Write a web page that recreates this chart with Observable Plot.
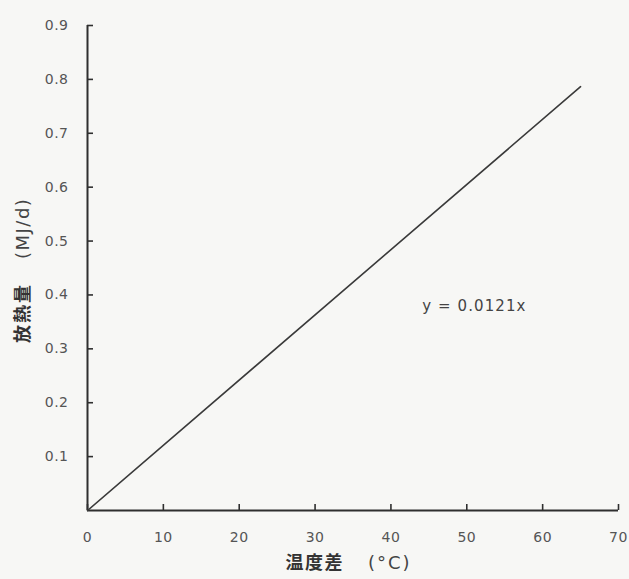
<!DOCTYPE html>
<html>
<head>
<meta charset="utf-8">
<script src="https://cdn.jsdelivr.net/npm/d3@7"></script>
<script src="https://cdn.jsdelivr.net/npm/@observablehq/plot@0.6"></script>
<style>
  html, body { margin: 0; padding: 0; background: #f7f7f5; }
  #chart svg { display: block; }
</style>
</head>
<body>
<div id="chart"></div>
<script>
// Heat release vs. temperature difference, regression through the origin
const slope = 0.0121;
const xRange = [0, 65];
const xTicks = [0, 10, 20, 30, 40, 50, 60, 70];
const yTicks = [0.1, 0.2, 0.3, 0.4, 0.5, 0.6, 0.7, 0.8, 0.9];
const equationLabel = ["y = 0.0121x"];
const equationPos = [{x: 51, y: 0.38}];
const xTitle = ["温度差", "(°C)"];
const yTitle = ["放熱量", "(MJ/d)"];

// extra tracking for the titles and the equation
const spacing = new Map([
  [equationLabel[0], "1.1px"],
  [xTitle[0], "1.5px"],
  [xTitle[1], "2px"],
  [yTitle[0], "2px"],
  [yTitle[1], "1.5px"]
]);

const fitLine = xRange.map(x => ({x, y: slope * x}));
const ink = "#2f2f2f";
const tickInk = "#555";
const latin = "'DejaVu Sans', sans-serif";
const cjk = "'Noto Sans CJK JP', sans-serif";

const chart = Plot.plot({
  width: 629,
  height: 579,
  marginLeft: 87,
  marginRight: 11,
  marginTop: 25,
  marginBottom: 69,
  style: {background: "#f7f7f5", fontFamily: latin, fontSize: "14px", letterSpacing: "0.5px"},
  x: {domain: [0, 70]},
  y: {domain: [0, 0.9]},
  marks: [
    Plot.axisX({
      ticks: xTicks, tickSize: -6, tickPadding: 28, stroke: ink, strokeWidth: 1.6,
      color: tickInk, fontSize: 14, label: null
    }),
    Plot.axisY({
      ticks: yTicks, tickSize: -6, tickPadding: 25, stroke: ink, strokeWidth: 1.6,
      color: tickInk, fontSize: 14, label: null, tickFormat: d3.format(".1f")
    }),
    Plot.ruleX([0], {stroke: ink, strokeWidth: 2}),
    Plot.ruleY([0], {stroke: ink, strokeWidth: 2}),
    Plot.line(fitLine, {x: "x", y: "y", stroke: "#3a3a3a", strokeWidth: 1.6}),
    Plot.text(equationPos, {
      x: "x", y: "y", text: () => equationLabel[0],
      fontSize: 15, fill: "#444", textAnchor: "middle"
    }),
    // x axis title: bold CJK word followed by the unit
    Plot.text([xTitle[0]], {
      frameAnchor: "bottom", dx: -9, dy: 58, textAnchor: "end", text: d => d,
      fontSize: 18, fontWeight: "bold", fill: "#333", fontFamily: cjk
    }),
    Plot.text([xTitle[1]], {
      frameAnchor: "bottom", dx: 15, dy: 58, textAnchor: "start", text: d => d,
      fontSize: 18, fill: "#444", fontFamily: latin
    }),
    // y axis title, rotated, reading bottom to top
    Plot.text([yTitle[0]], {
      frameAnchor: "left", dx: -64, dy: 75, rotate: -90, textAnchor: "start", text: d => d,
      fontSize: 18, fontWeight: "bold", fill: "#333", fontFamily: cjk
    }),
    Plot.text([yTitle[1]], {
      frameAnchor: "left", dx: -64, dy: -9, rotate: -90, textAnchor: "start", text: d => d,
      fontSize: 18, fill: "#444", fontFamily: latin
    })
  ]
});

d3.select(chart).selectAll("text").each(function () {
  const ls = spacing.get(this.textContent);
  if (ls) this.style.letterSpacing = ls;
});

document.getElementById("chart").appendChild(chart);
</script>
</body>
</html>
